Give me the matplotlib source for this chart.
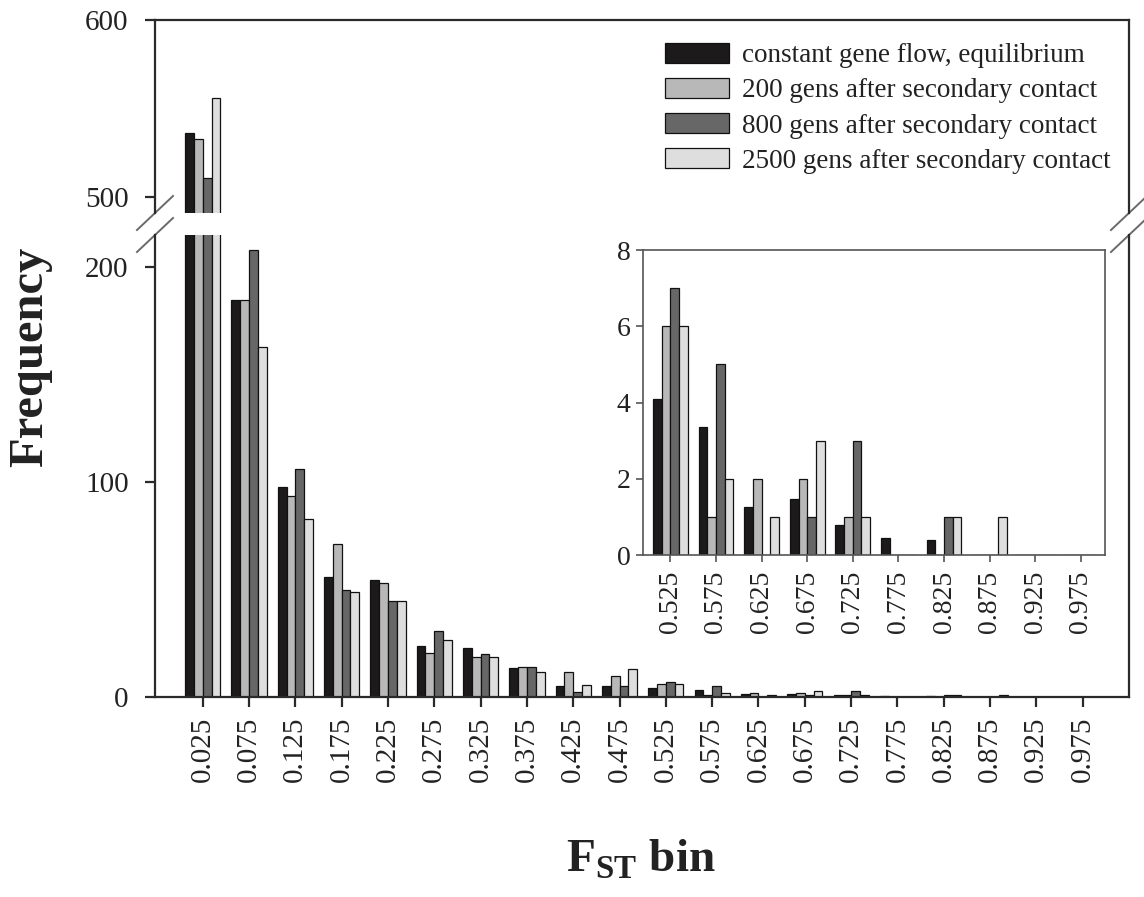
import numpy as np
import matplotlib.pyplot as plt

plt.rcParams['font.family'] = ['Liberation Serif', 'DejaVu Serif']
plt.rcParams['mathtext.fontset'] = 'custom'
plt.rcParams['mathtext.rm'] = 'Liberation Serif'
plt.rcParams['mathtext.bf'] = 'Liberation Serif:bold'

# FST bins and frequencies for each scenario
bins = ['0.025', '0.075', '0.125', '0.175', '0.225', '0.275', '0.325', '0.375',
        '0.425', '0.475', '0.525', '0.575', '0.625', '0.675', '0.725', '0.775',
        '0.825', '0.875', '0.925', '0.975']
equilibrium = [536, 184.7, 97.5, 55.8, 54.3, 23.7, 22.6, 13.6, 5.1, 5.1,
               4.08, 3.35, 1.25, 1.46, 0.79, 0.45, 0.39, 0, 0, 0]
gens_200 = [533, 184.7, 93.6, 71, 52.8, 20.3, 18.7, 14.1, 11.7, 9.7,
            6, 1, 2, 2, 1, 0, 0, 0, 0, 0]
gens_800 = [511, 207.9, 105.9, 50, 44.5, 30.8, 19.8, 14.1, 2.5, 5.1,
            7, 5, 0, 1, 3, 0, 1, 0, 0, 0]
gens_2500 = [556, 162.9, 82.9, 48.9, 44.5, 26.5, 18.7, 11.7, 5.6, 12.8,
             6, 2, 1, 3, 1, 0, 1, 1, 0, 0]

series = [equilibrium, gens_200, gens_800, gens_2500]
labels = ['constant gene flow, equilibrium',
          '200 gens after secondary contact',
          '800 gens after secondary contact',
          '2500 gens after secondary contact']
colors = ['#1c1a1b', '#b8b8b8', '#676767', '#dedede']

inset_start = 10  # inset shows bins from 0.525 upward

W, H = 1144, 897
fig = plt.figure(figsize=(W / 100, H / 100), dpi=100)

def px_axes(left, top, right, bottom):
    return fig.add_axes([left / W, 1 - bottom / H, (right - left) / W, (bottom - top) / H])

ax_top = px_axes(155, 20, 1129, 213)
ax_bot = px_axes(155, 235, 1129, 697)
ax_in = px_axes(643, 250, 1105, 555)

spine_col = '#2a2a2a'
txt_col = '#222222'
width = 0.19


def draw_bars(ax, idx):
    handles = []
    x = np.arange(len(idx))
    for j, (vals, lab, col) in enumerate(zip(series, labels, colors)):
        v = [vals[i] for i in idx]
        b = ax.bar(x + (j - 1.5) * width, v, width, color=col, edgecolor='#111111',
                   linewidth=0.9, label=lab)
        handles.append(b)
    return handles


idx_all = list(range(len(bins)))
handles = draw_bars(ax_top, idx_all)
draw_bars(ax_bot, idx_all)
draw_bars(ax_in, list(range(inset_start, len(bins))))

for ax in (ax_top, ax_bot):
    ax.set_xlim(-1.03, 20.0)
    for s in ax.spines.values():
        s.set_color(spine_col)
        s.set_linewidth(1.6)
    ax.tick_params(colors=spine_col, labelcolor=txt_col, labelsize=21,
                   length=7, width=1.6, direction='out')
    ax.tick_params(axis='y', pad=12)

ax_top.set_ylim(491, 600)
ax_top.set_yticks([500, 600])
ax_top.spines['bottom'].set_visible(False)
ax_top.set_xticks([])

ax_bot.set_ylim(0, 214.9)
ax_bot.set_yticks([0, 100, 200])
ax_bot.spines['top'].set_visible(False)
ax_bot.set_xticks(np.arange(len(bins)))
ax_bot.set_xticklabels(bins, rotation=90)
ax_bot.tick_params(axis='x', pad=7)

# diagonal break marks on both side spines
dx = 18 / 974
for xs in (0, 1):
    for ax, yb, h in ((ax_top, 0, 193), (ax_bot, 1, 462)):
        dy = 17 / h
        ax.plot([xs - dx, xs + dx], [yb - dy, yb + dy], transform=ax.transAxes,
                color='#6a6a6a', lw=1.4, clip_on=False)

# inset for the upper tail
ax_in.set_xlim(-0.6, 9.53)
ax_in.set_ylim(0, 8)
ax_in.set_yticks([0, 2, 4, 6, 8])
ax_in.set_xticks(np.arange(len(bins) - inset_start))
ax_in.set_xticklabels(bins[inset_start:], rotation=90)
for s in ax_in.spines.values():
    s.set_color('#555555')
    s.set_linewidth(1.2)
ax_in.tick_params(colors='#555555', labelcolor=txt_col, labelsize=20,
                  length=5, width=1.2, direction='out')
ax_in.tick_params(axis='x', pad=6)
ax_in.tick_params(axis='y', pad=4)

fig.legend(handles, labels, loc='upper left', bbox_to_anchor=(665 / W, 1 - 43 / H),
           frameon=False, fontsize=19.5, borderpad=0, borderaxespad=0,
           handlelength=2.35, handleheight=0.75, handletextpad=0.5,
           labelspacing=0.36, labelcolor=txt_col)

fig.text(30 / W, 1 - 357 / H, 'Frequency', rotation=90, ha='center', va='center',
         fontsize=35, fontweight='bold', color=txt_col)
fig.text(641 / W, 1 - 860 / H, r'$\mathbf{F}_{\mathbf{ST}}$ bin', ha='center', va='center',
         fontsize=34, fontweight='bold', color=txt_col)

fig.savefig('out.png', dpi=100)
